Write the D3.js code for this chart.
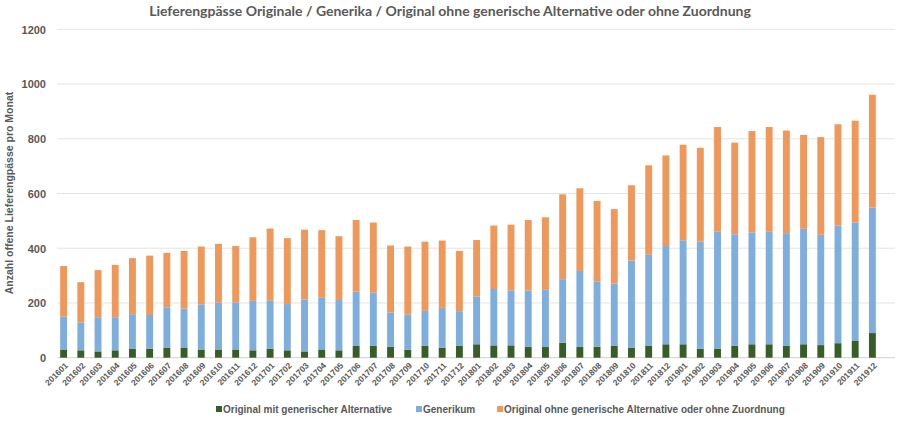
<!DOCTYPE html>
<html><head><meta charset="utf-8">
<script src="https://cdn.jsdelivr.net/npm/d3@7/dist/d3.min.js"></script>
<style>
body{margin:0;background:#fff;}
svg{display:block;font-family:"Liberation Sans",Arial,sans-serif;}
</style></head>
<body><svg id="c" width="900" height="421"></svg>
<script>
const months = ["201601","201602","201603","201604","201605","201606","201607","201608","201609","201610","201611","201612",
"201701","201702","201703","201704","201705","201706","201707","201708","201709","201710","201711","201712",
"201801","201802","201803","201804","201805","201806","201807","201808","201809","201810","201811","201812",
"201901","201902","201903","201904","201905","201906","201907","201908","201909","201910","201911","201912"];
const originalMitAlternative = [30,27,23,27,33,33,37,37,30,30,30,27,33,27,23,30,27,43,43,40,29,43,37,43,49,45,45,39,39,55,39,40,43,37,43,49,49,33,33,43,49,49,43,49,46,53,61,90];
const generikum = [120,102,125,121,126,123,147,143,165,171,172,181,175,169,190,189,184,198,195,125,128,128,145,127,174,206,201,206,209,232,278,239,228,318,333,359,380,391,427,408,409,411,412,422,403,430,433,459];
const originalOhneAlternative = [185,147,172,191,205,217,199,210,211,215,206,232,264,241,255,247,233,262,256,245,249,253,246,220,207,232,240,258,265,310,302,294,272,275,327,331,349,343,383,335,370,383,375,343,357,370,372,412];
const seriesNames = ["Original mit generischer Alternative","Generikum","Original ohne generische Alternative oder ohne Zuordnung"];
const yTicks = [0,200,400,600,800,1000,1200];
const titleText = "Lieferengpässe Originale / Generika / Original ohne generische Alternative oder ohne Zuordnung";
const yTitle = "Anzahl offene Lieferengpässe pro Monat";
const colors = ["#375e27","#7daedd","#f0975a"];

const svg = d3.select("#c");
const x = d3.scaleBand().domain(months).range([55,881]).paddingInner(0.6).paddingOuter(0.3);
const y = d3.scaleLinear().domain([0,1200]).range([357.7,29.3]);

// gridlines
svg.append("g").selectAll("line").data(yTicks).join("line")
  .attr("x1",57).attr("x2",895)
  .attr("y1",d=>y(d)).attr("y2",d=>y(d))
  .attr("stroke",d=>d===0?"#d0d0d0":"#e4e4e4").attr("stroke-width",1);

// y axis labels
const yAxis = d3.axisLeft(y).tickValues(yTicks).tickFormat(d3.format("d")).tickSize(0).tickPadding(0);
const ya = svg.append("g").attr("transform","translate(46,0)").call(yAxis);
ya.select(".domain").remove();
ya.selectAll("text").attr("fill","#595959").style("font-size","11px").style("font-weight","bold").attr("dy","0.35em");

// stacked data
const rows = months.map((m,i)=>({m, s0:originalMitAlternative[i], s1:generikum[i], s2:originalOhneAlternative[i]}));
const stack = d3.stack().keys(["s0","s1","s2"])(rows);
svg.append("g").selectAll("g").data(stack).join("g")
  .attr("fill",(d,i)=>colors[i])
  .selectAll("rect").data(d=>d).join("rect")
  .attr("x",d=>x(d.data.m)).attr("width",x.bandwidth())
  .attr("y",d=>y(d[1])).attr("height",d=>y(d[0])-y(d[1]));

// x axis labels
const xAxis = d3.axisBottom(x).tickSize(0).tickPadding(0);
const xa = svg.append("g").attr("transform","translate(0,364)").call(xAxis);
xa.select(".domain").remove();
xa.selectAll("text").attr("fill","#595959").style("font-size","8.5px").style("font-weight","bold")
  .attr("text-anchor","end").attr("dy","0.35em")
  .attr("transform","rotate(-45)").attr("x",2).attr("y",2);

// title
svg.append("text").attr("x",450).attr("y",16).attr("text-anchor","middle")
  .attr("fill","#595959").style("font-family","Lato, 'Open Sans', sans-serif")
  .style("font-size","14px").style("font-weight","bold").text(titleText);

// y title
svg.append("text").attr("transform","translate(13,193) rotate(-90)").attr("text-anchor","middle")
  .attr("fill","#595959").style("font-size","10.5px").style("font-weight","bold").text(yTitle);

// legend
const legX = [216,416,497];
const lg = svg.append("g").attr("transform","translate(0,409)");
seriesNames.forEach((n,i)=>{
  lg.append("rect").attr("x",legX[i]).attr("y",-3).attr("width",6).attr("height",6).attr("fill",colors[i]);
  lg.append("text").attr("x",legX[i]+7).attr("y",0).attr("dy","0.35em")
    .attr("fill","#595959").style("font-size","10px").style("font-weight","bold").text(n);
});
</script></body></html>
